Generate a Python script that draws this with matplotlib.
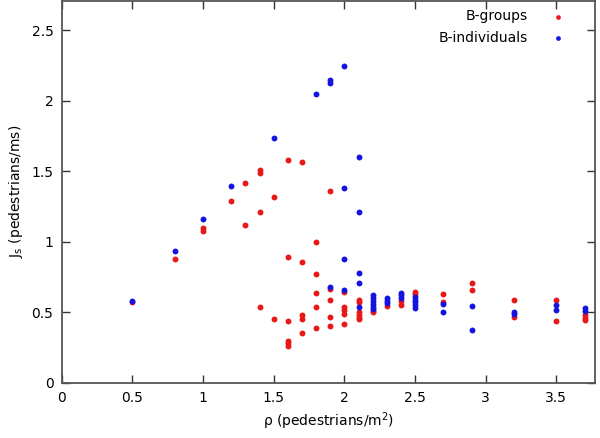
import matplotlib
matplotlib.use("Agg")
import matplotlib.pyplot as plt

# B-groups (red)
groups_x = [0.5, 0.8, 1.0, 1.0, 1.2, 1.3, 1.3, 1.4, 1.4, 1.4, 1.4,
            1.5, 1.5, 1.6, 1.6, 1.6, 1.6, 1.6, 1.6,
            1.7, 1.7, 1.7, 1.7, 1.7, 1.8, 1.8, 1.8, 1.8, 1.8,
            1.9, 1.9, 1.9, 1.9, 1.9, 2.0, 2.0, 2.0, 2.0, 2.0,
            2.1, 2.1, 2.1, 2.1, 2.1, 2.1, 2.2, 2.2, 2.3, 2.4, 2.4,
            2.5, 2.5, 2.7, 2.7, 2.9, 2.9, 3.2, 3.2, 3.5, 3.5, 3.7, 3.7, 3.7]
groups_y = [0.575, 0.88, 1.08, 1.10, 1.29, 1.42, 1.12, 1.49, 1.51, 1.21, 0.54,
            1.32, 0.45, 1.58, 0.89, 0.44, 0.30, 0.28, 0.26,
            1.57, 0.86, 0.48, 0.455, 0.35, 1.00, 0.77, 0.64, 0.54, 0.39,
            1.36, 0.665, 0.59, 0.465, 0.40, 0.645, 0.54, 0.515, 0.49, 0.42,
            0.59, 0.57, 0.50, 0.48, 0.46, 0.45, 0.51, 0.50, 0.545, 0.58, 0.55,
            0.645, 0.63, 0.63, 0.57, 0.71, 0.66, 0.59, 0.465, 0.59, 0.44, 0.48, 0.46, 0.445]

# B-individuals (blue)
indiv_x = [0.5, 0.8, 1.0, 1.2, 1.5, 1.8, 1.9, 1.9, 1.9,
           2.0, 2.0, 2.0, 2.0, 2.1, 2.1, 2.1, 2.1, 2.1,
           2.2, 2.2, 2.2, 2.2, 2.2, 2.2, 2.3, 2.3, 2.3, 2.4, 2.4, 2.4,
           2.5, 2.5, 2.5, 2.5, 2.5, 2.7, 2.7, 2.9, 2.9, 3.2, 3.2, 3.5, 3.5, 3.7, 3.7]
indiv_y = [0.58, 0.935, 1.165, 1.40, 1.74, 2.05, 2.13, 2.15, 0.68,
           2.25, 1.38, 0.88, 0.655, 1.60, 1.21, 0.78, 0.71, 0.535,
           0.62, 0.60, 0.58, 0.56, 0.54, 0.525, 0.60, 0.58, 0.565, 0.64, 0.62, 0.60,
           0.61, 0.59, 0.57, 0.55, 0.53, 0.56, 0.50, 0.545, 0.375, 0.50, 0.485, 0.55, 0.52, 0.53, 0.51]

xticks = [0, 0.5, 1, 1.5, 2, 2.5, 3, 3.5]
yticks = [0, 0.5, 1, 1.5, 2, 2.5]

fig = plt.figure(figsize=(6, 4.38), dpi=100)
ax = fig.add_axes([0.103, 0.126, 0.889, 0.872])

ax.scatter(groups_x, groups_y, s=18, color="#e81818", linewidths=0, label="B-groups")
ax.scatter(indiv_x, indiv_y, s=18, color="#1414e0", linewidths=0, label="B-individuals")

ax.set_xlim(0, 3.775)
ax.set_ylim(0, 2.71)
ax.set_xticks(xticks)
ax.set_xticklabels([f"{t:g}" for t in xticks])
ax.set_yticks(yticks)
ax.set_yticklabels([f"{t:g}" for t in yticks])

for s in ax.spines.values():
    s.set_color("#555555")
    s.set_linewidth(1.3)
ax.tick_params(direction="in", length=6, width=1, color="#333333",
               top=True, right=True, labelsize=10, pad=6)

ax.set_xlabel("ρ (pedestrians/m$^2$)", fontsize=10, labelpad=4)
ax.set_ylabel("J$_\\mathrm{s}$ (pedestrians/ms)", fontsize=10, labelpad=5)

ax.legend(loc="upper right", frameon=False, markerfirst=False, fontsize=10,
          handletextpad=1.2, borderaxespad=0.2, labelspacing=0.55,
          markerscale=0.8, bbox_to_anchor=(0.972, 1.0))

fig.savefig("out.png", dpi=100)
